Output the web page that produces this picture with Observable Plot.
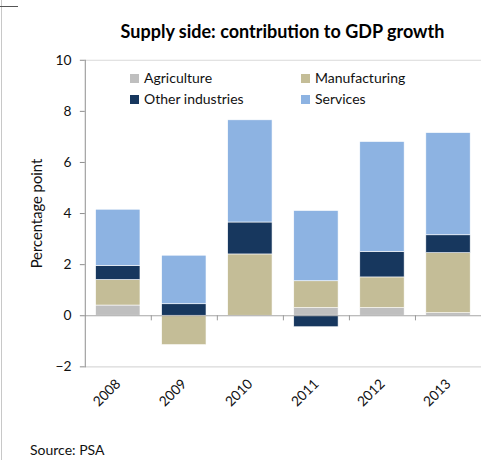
<!DOCTYPE html>
<html>
<head>
<meta charset="utf-8">
<script src="https://cdn.jsdelivr.net/npm/d3@7"></script>
<script src="https://cdn.jsdelivr.net/npm/@observablehq/plot@0.6"></script>
<style>
  html, body { margin: 0; padding: 0; background: #fff; overflow: hidden; width: 483px; height: 460px; }
  body { position: relative; font-family: Lato, "Open Sans", sans-serif; color: #111; }
  #edgeV { position: absolute; left: 1px; top: 0; width: 1px; height: 460px; background: #c8c8c8; }
  #edgeH { position: absolute; left: 0; top: 6px; width: 18px; height: 1px; background: #555; }
  #title { position: absolute; left: 0; top: 20px; width: 565px; text-align: center; font-weight: 700; font-size: 18px; line-height: 22px; color: #000; }
  #chart { position: absolute; left: 0; top: 45px; }
  #legend { position: absolute; left: 0; top: 0; width: 483px; height: 120px; pointer-events: none; }
  .item { position: absolute; display: flex; align-items: center; font-size: 14px; line-height: 16px; color: #111; white-space: nowrap; }
  .sw { width: 9px; height: 9px; margin-right: 5px; }
  #source { position: absolute; left: 30px; top: 442px; font-size: 14px; line-height: 16px; color: #111; }
</style>
</head>
<body>
<div id="edgeV"></div>
<div id="edgeH"></div>
<div id="title">Supply side: contribution to GDP growth</div>
<div id="chart"></div>
<div id="legend"></div>
<div id="source">Source: PSA</div>
<script>
const years = ["2008", "2009", "2010", "2011", "2012", "2013"];
const sectors = ["Agriculture", "Manufacturing", "Other industries", "Services"];
const agriculture     = [0.4, 0.0, 0.0, 0.3, 0.3, 0.1];
const manufacturing   = [1.0, -1.15, 2.4, 1.05, 1.2, 2.35];
const otherIndustries = [0.55, 0.45, 1.25, -0.45, 1.0, 0.7];
const services        = [2.2, 1.9, 4.0, 2.75, 4.3, 4.0];
const colors = ["#bfbfbf", "#c4bd97", "#17375e", "#8db3e2"];
const yTicks = [-2, 0, 2, 4, 6, 8, 10];
const yLabel = "Percentage point";

const seriesList = [agriculture, manufacturing, otherIndustries, services];
const data = years.flatMap((year, i) =>
  sectors.map((sector, j) => ({year, sector, value: seriesList[j][i]}))
);

const chart = Plot.plot({
  width: 490,
  height: 390,
  marginTop: 15,
  marginBottom: 64,
  marginLeft: 86,
  marginRight: 2,
  style: {fontFamily: "Lato, 'Open Sans', sans-serif", fontSize: "14px", color: "#111", background: "transparent", overflow: "visible"},
  x: {domain: years, paddingInner: 0.33, paddingOuter: 0.165, label: null},
  y: {domain: [-2, 10], label: null},
  color: {domain: sectors, range: colors},
  marks: [
    Plot.ruleY([10, -2], {stroke: "#d9d9d9", strokeWidth: 1.2}),
    Plot.barY(data, {x: "year", y: "value", fill: "sector", order: sectors, stroke: "#ffffff", strokeWidth: 0.6}),
    Plot.ruleY([0], {stroke: "#a6a6a6", strokeWidth: 1.2}),
    Plot.ruleX(years.slice(0, -1), {x: d => d, y1: 0, y2: -0.2, dx: 33.5, stroke: "#999"}),
    Plot.frame({anchor: "left", stroke: "#8c8c8c"}),
    Plot.axisY({ticks: yTicks, tickSize: 5, tickPadding: 9, stroke: "#8c8c8c", fontSize: 14}),
    Plot.axisY({ticks: [], tickSize: 0, label: yLabel, labelAnchor: "center", labelOffset: 55, labelArrow: "none", fontSize: 15}),
    Plot.axisX({tickRotate: -45, tickSize: 0, tickPadding: 15, label: null, fontSize: 14})
  ]
});
document.getElementById("chart").appendChild(chart);

// Legend (HTML, overlaid on the plot area)
const legendPos = [[130, 70], [301, 70], [130, 91], [301, 91]];
const legend = document.getElementById("legend");
sectors.forEach((s, i) => {
  const item = document.createElement("div");
  item.className = "item";
  item.style.left = legendPos[i][0] + "px";
  item.style.top = legendPos[i][1] + "px";
  const sw = document.createElement("span");
  sw.className = "sw";
  sw.style.background = colors[i];
  item.appendChild(sw);
  item.appendChild(document.createTextNode(s));
  legend.appendChild(item);
});
</script>
</body>
</html>
